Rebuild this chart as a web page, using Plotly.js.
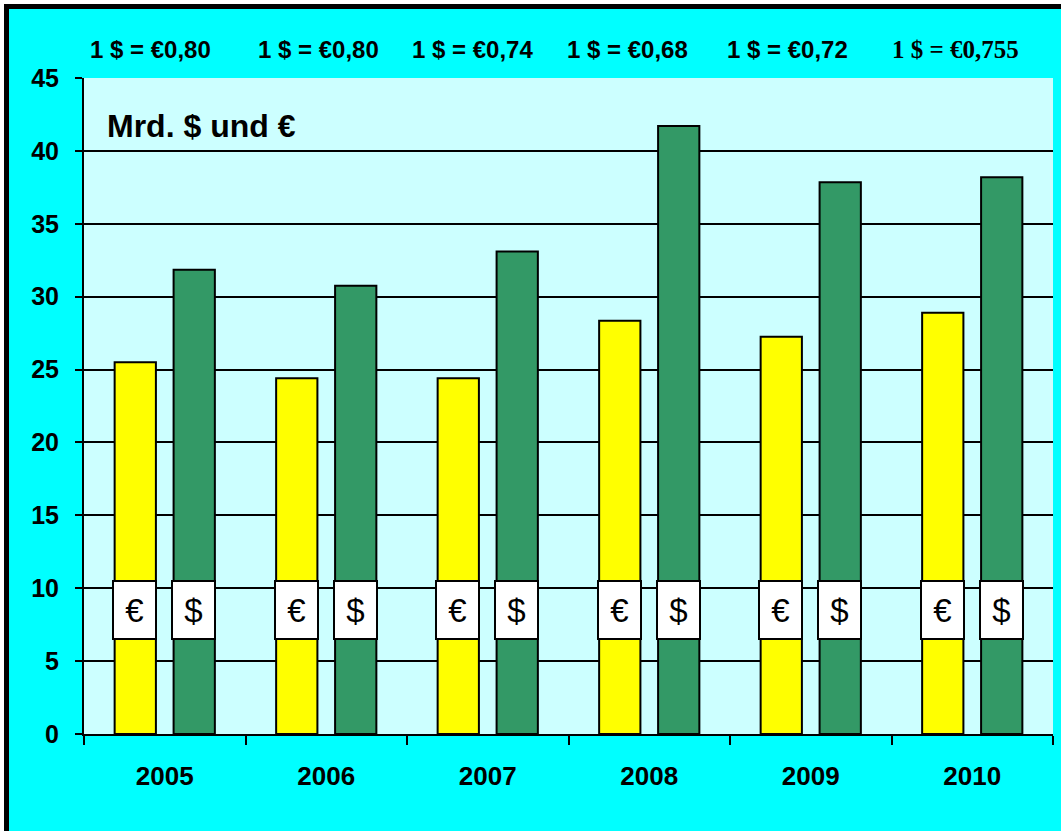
<!DOCTYPE html>
<html><head><meta charset="utf-8">
<script src="https://cdn.plot.ly/plotly-3.0.1.min.js"></script>
<style>
html,body{margin:0;padding:0;background:#fff;}
#frame{position:absolute;left:4px;top:4px;width:1052px;height:822px;border-top:5px solid #000;border-left:5px solid #000;background:#00FFFF;}
#chart{position:absolute;left:0;top:0;width:1052px;height:822px;}
</style></head><body>
<div id="frame"><div id="chart"></div></div>
<script>
// ---- data ----
const years = ['2005', '2006', '2007', '2008', '2009', '2010'];
const euroValues = [25.5, 24.4, 24.4, 28.35, 27.25, 28.9];
const dollarValues = [31.85, 30.75, 33.1, 41.7, 37.85, 38.2];
const rateLabels = ['1 $ = €0,80', '1 $ = €0,80', '1 $ = €0,74', '1 $ = €0,68', '1 $ = €0,72', '1 $ = €0,755'];
const yTicks = [0, 5, 10, 15, 20, 25, 30, 35, 40, 45];
const unitLabel = 'Mrd. $ und €';

// ---- layout / style ----
const sans = '"Liberation Sans", Arial, sans-serif';
const serif = '"Liberation Serif", "Times New Roman", serif';
const rateShift = [-14, -8, -15, -22, -23, -17];

const traces = [
  {type: 'bar', name: '€', x: years, y: euroValues,
   marker: {color: '#FFFF00', line: {color: '#000', width: 2}}, hoverinfo: 'skip'},
  {type: 'bar', name: '$', x: years, y: dollarValues,
   marker: {color: '#339966', line: {color: '#000', width: 2}}, hoverinfo: 'skip'}
];

const annotations = [];
years.forEach((yr, i) => {
  [['€', -30], ['$', 29]].forEach(([sym, sh]) => {
    annotations.push({x: i, y: 8.5, xref: 'x', yref: 'y', text: sym, showarrow: false,
      xshift: sh, width: 41, height: 56, bgcolor: '#FFFFFF', bordercolor: '#000', borderwidth: 2, borderpad: 0,
      font: {family: sans, size: 33, color: '#000'}, align: 'center', valign: 'middle'});
  });
  annotations.push({x: i, y: 1, xref: 'x', yref: 'paper', text: '<b>' + rateLabels[i] + '</b>', showarrow: false,
    xshift: rateShift[i], yshift: 29, yanchor: 'middle',
    font: {family: i === years.length - 1 ? serif : sans, size: i === years.length - 1 ? 25 : 24, color: '#000'}});
});
annotations.push({x: 0, y: 1, xref: 'paper', yref: 'paper', xanchor: 'left', yanchor: 'middle',
  xshift: 21, yshift: -48, text: '<b>' + unitLabel + '</b>', showarrow: false,
  font: {family: sans, size: 32, color: '#000'}});

const layout = {
  width: 1052, height: 822,
  margin: {l: 75, r: 8, t: 69, b: 97},
  paper_bgcolor: '#00FFFF', plot_bgcolor: '#CCFFFF',
  barmode: 'group', bargap: 0.27, bargroupgap: 0.3,
  showlegend: false,
  xaxis: {type: 'category', showline: true, linecolor: '#000', linewidth: 2,
    ticks: 'outside', tickson: 'boundaries', ticklen: 9, tickwidth: 2, tickcolor: '#000',
    showgrid: false, ticklabelstandoff: 18,
    tickfont: {family: sans, size: 26, color: '#000', weight: 'bold'}},
  yaxis: {range: [0, 45], tickvals: yTicks, showline: true, linecolor: '#000', linewidth: 2,
    ticks: 'outside', ticklen: 7, tickwidth: 2, tickcolor: '#000',
    showgrid: true, gridcolor: '#000', gridwidth: 2, zeroline: false, ticklabelstandoff: 11,
    tickfont: {family: sans, size: 25, color: '#000', weight: 'bold'}},
  annotations: annotations
};

Plotly.newPlot('chart', traces, layout, {staticPlot: true, displayModeBar: false});
</script>
</body></html>
